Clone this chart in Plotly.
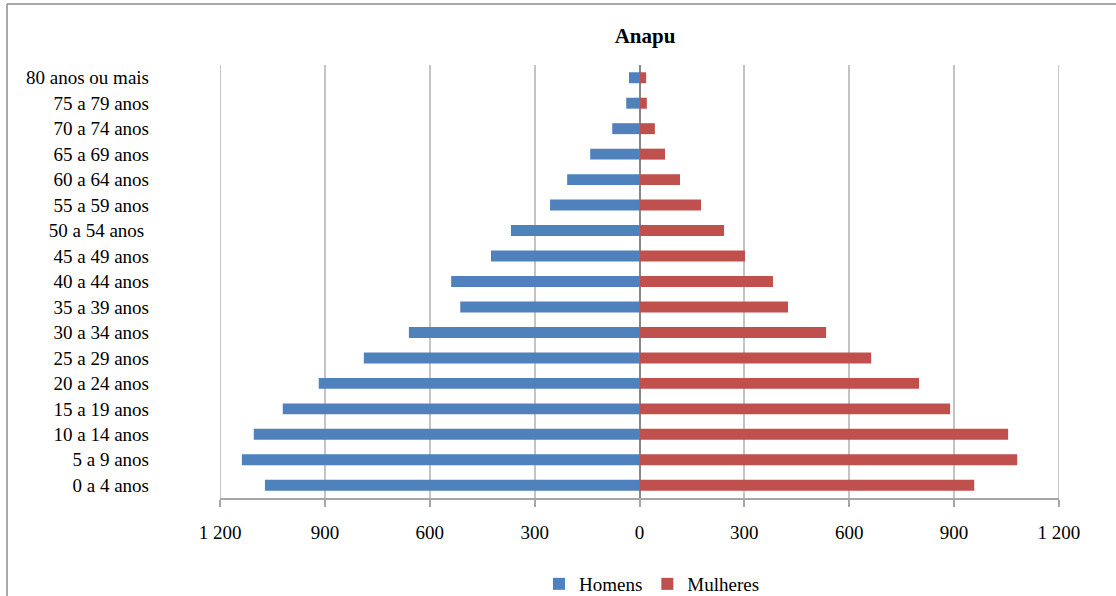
import plotly.graph_objects as go

# Age groups, youngest first (drawn bottom to top)
age_groups = [
    "0 a 4 anos", "5 a 9 anos", "10 a 14 anos", "15 a 19 anos",
    "20 a 24 anos", "25 a 29 anos", "30 a 34 anos", "35 a 39 anos",
    "40 a 44 anos", "45 a 49 anos", "50 a 54 anos\u00a0", "55 a 59 anos",
    "60 a 64 anos", "65 a 69 anos", "70 a 74 anos", "75 a 79 anos",
    "80 anos ou mais",
]
homens = [1072, 1138, 1104, 1021, 918, 789, 660, 513, 539, 425, 368, 256, 207, 141, 78, 38, 30]
mulheres = [958, 1081, 1055, 889, 800, 663, 534, 425, 382, 302, 242, 176, 116, 73, 44, 21, 19]

tick_values = [-1200, -900, -600, -300, 0, 300, 600, 900, 1200]
tick_labels = ["1 200", "900", "600", "300", "0", "300", "600", "900", "1 200"]

FONT = "Liberation Serif, Times New Roman, serif"
GRID = "#c4c4c4"

fig = go.Figure()
fig.add_trace(go.Bar(
    y=age_groups, x=[-v for v in homens], orientation="h",
    name="Homens", marker=dict(color="#4F81BD", line=dict(width=0)),
))
fig.add_trace(go.Bar(
    y=age_groups, x=mulheres, orientation="h",
    name="Mulheres", marker=dict(color="#C0504D", line=dict(width=0)),
))

W, H = 1116, 596
L, R, T, B = 220, 57, 65, 98
pw, ph = W - L - R, H - T - B

def px_to_paper(px, py):
    return (px - L) / pw, (H - B - py) / ph

bx, by = px_to_paper(7, 4)
bx_end, _ = px_to_paper(1130, 0)
_, by_end = px_to_paper(0, 610)

shapes = [
    # Frame around the chart (top and left edges only reach into view)
    dict(type="line", xref="paper", yref="paper", x0=bx, y0=by, x1=bx_end, y1=by,
         line=dict(color="#8c8c8c", width=1.5), layer="below"),
    dict(type="line", xref="paper", yref="paper", x0=bx, y0=by, x1=bx, y1=by_end,
         line=dict(color="#8c8c8c", width=1.5), layer="below"),
]
# Gridlines at the two outer ticks of the value axis
for edge in (tick_values[0], tick_values[-1]):
    shapes.append(dict(type="line", xref="x", yref="paper", x0=edge, x1=edge, y0=0, y1=1,
                       line=dict(color=GRID, width=1.5), layer="below"))

fig.update_layout(
    width=W, height=H,
    margin=dict(l=L, r=R, t=T, b=B, autoexpand=False),
    paper_bgcolor="white", plot_bgcolor="white",
    barmode="relative", bargap=0.57,
    font=dict(family=FONT, size=19, color="#000000"),
    title=dict(
        text="<b>Anapu</b>", x=645 / W, xanchor="center",
        y=1 - 36 / H, yanchor="middle",
        font=dict(family=FONT, size=21, color="#000000"),
    ),
    xaxis=dict(
        range=[-1200.6, 1200.6], tickmode="array",
        tickvals=tick_values, ticktext=tick_labels,
        showgrid=True, gridcolor=GRID, gridwidth=1.5,
        zeroline=True, zerolinecolor="#888888", zerolinewidth=1.5,
        showline=True, linecolor="#a6a6a6", linewidth=1.5,
        ticks="outside", ticklen=7, tickcolor="#a6a6a6", tickwidth=1.5,
        ticklabelstandoff=9,
        tickfont=dict(family=FONT, size=19, color="#000000"),
        fixedrange=True,
    ),
    yaxis=dict(
        type="category", categoryorder="array", categoryarray=age_groups,
        showgrid=False, zeroline=False, showline=False, ticks="",
        ticklabelstandoff=70,
        tickfont=dict(family=FONT, size=19, color="#000000"),
        fixedrange=True,
    ),
    legend=dict(
        orientation="h", x=px_to_paper(652, 0)[0], xanchor="center",
        y=px_to_paper(0, 584)[1], yanchor="middle",
        font=dict(family=FONT, size=19, color="#000000"),
        itemwidth=30, traceorder="normal", bgcolor="rgba(0,0,0,0)",
    ),
    shapes=shapes,
    showlegend=True,
)

fig.write_html("out.html")
